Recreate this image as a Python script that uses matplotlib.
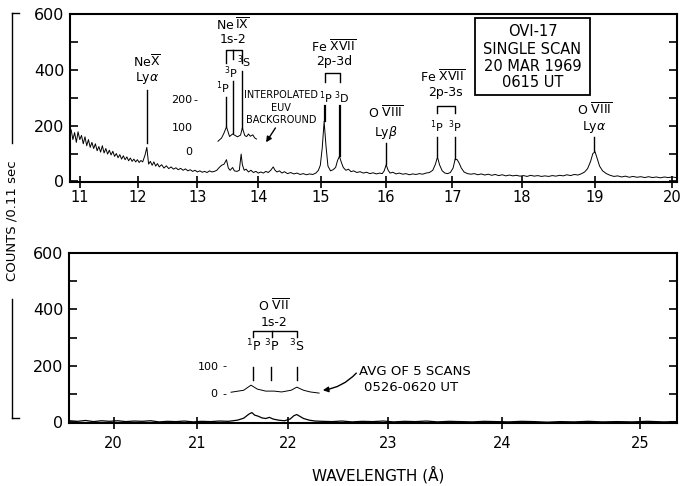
import numpy as np
import matplotlib.pyplot as plt
from matplotlib.patches import Rectangle
from matplotlib.lines import Line2D

plt.rcParams['font.family'] = ['DejaVu Sans']
plt.rcParams['mathtext.fontset'] = 'dejavusans'

# crystal 2d spacing (KAP) -> detector angle scale
TWO_D = 26.63

# upper panel: single scan, 20 Mar 1969
top_wl = [10.85, 10.88, 10.91, 10.94, 10.97, 11.00, 11.03, 11.06, 11.09, 11.12,
          11.15, 11.18, 11.21, 11.24, 11.27, 11.30, 11.33, 11.36, 11.39, 11.42,
          11.45, 11.48, 11.51, 11.54, 11.57, 11.60, 11.63, 11.66, 11.69, 11.72,
          11.75, 11.78, 11.81, 11.84, 11.87, 11.90, 11.93, 11.96, 11.99, 12.02,
          12.05, 12.08, 12.12, 12.15, 12.18, 12.21, 12.24, 12.27, 12.30, 12.33,
          12.36, 12.40, 12.44, 12.48, 12.52, 12.56, 12.60, 12.64, 12.68, 12.72,
          12.76, 12.80, 12.84, 12.88, 12.92, 12.96, 13.00, 13.04, 13.08, 13.12,
          13.16, 13.20, 13.24, 13.28, 13.32, 13.36, 13.40, 13.44, 13.48, 13.51,
          13.54, 13.58, 13.61, 13.65, 13.69, 13.72, 13.74, 13.77, 13.80, 13.84,
          13.88, 13.92, 13.96, 14.00, 14.04, 14.08, 14.12, 14.16, 14.20, 14.24,
          14.27, 14.30, 14.34, 14.38, 14.42, 14.47, 14.52, 14.57, 14.62, 14.67,
          14.72, 14.77, 14.82, 14.87, 14.92, 14.96, 14.99, 15.02, 15.05, 15.08,
          15.11, 15.15, 15.19, 15.23, 15.26, 15.29, 15.32, 15.35, 15.39, 15.43,
          15.47, 15.51, 15.56, 15.61, 15.66, 15.71, 15.76, 15.81, 15.86, 15.91,
          15.95, 15.98, 16.01, 16.04, 16.07, 16.11, 16.16, 16.21, 16.26, 16.31,
          16.36, 16.41, 16.46, 16.51, 16.56, 16.61, 16.66, 16.71, 16.75, 16.78,
          16.81, 16.85, 16.89, 16.93, 16.97, 17.01, 17.04, 17.07, 17.10, 17.13,
          17.17, 17.22, 17.27, 17.32, 17.37, 17.42, 17.47, 17.52, 17.57, 17.62,
          17.67, 17.72, 17.77, 17.82, 17.87, 17.92, 17.97, 18.02, 18.07, 18.12,
          18.17, 18.22, 18.27, 18.32, 18.37, 18.42, 18.47, 18.52, 18.57, 18.62,
          18.67, 18.72, 18.77, 18.82, 18.86, 18.90, 18.94, 18.97, 19.00, 19.03,
          19.06, 19.10, 19.15, 19.20, 19.25, 19.30, 19.35, 19.40, 19.45, 19.50,
          19.55, 19.60, 19.65, 19.70, 19.75, 19.80, 19.85, 19.90, 19.95, 20.00,
          20.05]
top_counts = [185, 150, 175, 140, 178, 150, 165, 135, 160, 128,
              150, 122, 140, 118, 135, 110, 125, 105, 128, 102,
              118, 98, 112, 95, 108, 90, 100, 85, 96, 80,
              92, 78, 88, 74, 84, 72, 80, 70, 78, 68,
              75, 70, 95, 122, 62, 72, 58, 70, 55, 64,
              52, 60, 48, 56, 46, 52, 44, 49, 42, 47,
              40, 45, 38, 42, 36, 40, 34, 38, 33, 36,
              32, 38, 34, 36, 40, 50, 58, 62, 78, 48,
              40, 50, 38, 36, 40, 98, 60, 40, 44, 34,
              40, 32, 36, 30, 34, 30, 36, 32, 40, 52,
              40, 34, 38, 30, 35, 28, 32, 27, 30, 25,
              28, 24, 27, 25, 30, 40, 58, 120, 215, 125,
              55, 38, 42, 50, 75, 90, 68, 50, 40, 44,
              35, 38, 32, 35, 30, 33, 28, 31, 27, 30,
              28, 38, 60, 40, 30, 33, 27, 30, 26, 28,
              24, 27, 25, 28, 26, 30, 32, 40, 62, 88,
              60, 38, 30, 28, 32, 48, 80, 78, 65, 48,
              34, 28, 26, 28, 24, 27, 23, 26, 22, 25,
              21, 24, 20, 23, 20, 22, 19, 21, 18, 22,
              19, 21, 18, 20, 18, 21, 19, 22, 20, 24,
              21, 25, 23, 28, 34, 46, 72, 100, 106, 80,
              55, 38, 28, 22, 18, 20, 16, 19, 15, 18,
              15, 17, 14, 17, 14, 16, 13, 16, 14, 16,
              14]

# Ne IX region with interpolated EUV background removed (own zero)
inset1_wl = [13.34, 13.40, 13.44, 13.48, 13.53, 13.58, 13.66, 13.71, 13.74,
             13.78, 13.81, 13.84, 13.87, 13.91, 13.94, 13.97]
inset1_counts = [40, 52, 70, 92, 57, 66, 56, 62, 88, 60, 57, 66, 58, 63, 52, 48]

# lower panel: single scan 19.4 - 25.2 A
bot_wl = [19.45, 19.55, 19.65, 19.75, 19.85, 19.95, 20.05, 20.15, 20.25, 20.35,
          20.45, 20.55, 20.65, 20.75, 20.85, 20.95, 21.05, 21.15, 21.25, 21.35,
          21.45, 21.52, 21.58, 21.61, 21.64, 21.68, 21.72, 21.76, 21.80, 21.84,
          21.90, 21.96, 22.02, 22.06, 22.09, 22.12, 22.16, 22.22, 22.28, 22.35,
          22.45, 22.55, 22.65, 22.75, 22.85, 22.95, 23.05, 23.15, 23.25, 23.35,
          23.45, 23.55, 23.65, 23.75, 23.85, 23.95, 24.05, 24.15, 24.25, 24.35,
          24.45, 24.55, 24.65, 24.75, 24.85, 24.95, 25.05, 25.15, 25.23]
bot_counts = [6, 4, 7, 3, 6, 4, 6, 3, 5, 4,
              6, 2, 4, 3, 5, 2, 4, 3, 5, 4,
              8, 15, 30, 35, 26, 22, 16, 14, 18, 12,
              8, 6, 12, 24, 28, 22, 14, 8, 5, 4,
              3, 5, 2, 4, 3, 5, 2, 4, 3, 5,
              2, 4, 3, 2, 4, 3, 2, 4, 3, 1,
              3, 2, 4, 2, 3, 2, 4, 2, 3]

# O VII average of 5 scans (own zero)
inset2_wl = [21.38, 21.52, 21.60, 21.67, 21.76, 21.85, 21.93, 22.03, 22.09,
             22.16, 22.23, 22.32]
inset2_counts = [3, 10, 28, 14, 7, 7, 4, 10, 21, 10, 4, 0]

inset1_zero = 104
inset2_zero = 104


def fwd(lam):
    return np.degrees(np.arcsin(np.clip(np.asarray(lam, float) / TWO_D, 0, 1)))


def inv(th):
    return TWO_D * np.sin(np.radians(th))


fig = plt.figure(figsize=(6.81, 4.86), dpi=100)
ax1 = fig.add_axes([0.1028, 0.6255, 0.8913, 0.3457])
ax2 = fig.add_axes([0.1013, 0.1296, 0.8928, 0.3498])

for ax in (ax1, ax2):
    ax.set_xscale('function', functions=(fwd, inv))
    ax.set_ylim(-2, 600)
    ax.set_yticks(np.arange(0, 601, 100))
    ax.set_yticklabels(['0', '', '200', '', '400', '', '600'])
    ax.tick_params(axis='y', direction='in', length=6, width=1.2,
                   right=True, labelsize=11.5, pad=4)
    ax.tick_params(axis='x', direction='inout', length=8, width=1.2,
                   labelsize=10.5, pad=2)
    for sp in ax.spines.values():
        sp.set_linewidth(1.5)

ax1.set_xlim(10.83, 20.06)
ax1.set_xticks(range(11, 21))
ax1.minorticks_off()
ax2.set_xlim(19.44, 25.23)
ax2.set_xticks(range(20, 26))
ax2.minorticks_off()
ax2.tick_params(axis='x', pad=5)

ax1.plot(top_wl, top_counts, color='k', lw=0.7)
ax1.plot(inset1_wl, np.array(inset1_counts) + inset1_zero, color='k', lw=0.7)
ax2.plot(bot_wl, bot_counts, color='k', lw=0.9)
ax2.plot(inset2_wl, np.array(inset2_counts) + inset2_zero, color='k', lw=0.7)


def lab(ax, x, y, s, size=9, ha='center'):
    ax.text(x, y, s, ha=ha, va='center', fontsize=size)


def vline(ax, x, y0, y1, lw=1.0):
    ax.plot([x, x], [y0, y1], color='k', lw=lw)


def bracket(ax, xs, ytop, ybot, mid=None, midbot=None):
    ax.plot([xs[0], xs[0], xs[1], xs[1]], [ybot, ytop, ytop, ybot], color='k', lw=1.0)
    if mid is not None:
        vline(ax, mid, ytop, midbot)


# --- upper panel annotations ---
lab(ax1, 12.15, 429, r'Ne$\overline{\mathrm{X}}$')
lab(ax1, 12.15, 371, r'Ly$\alpha$')
vline(ax1, 12.15, 329, 139)

lab(ax1, 13.58, 561, r'Ne$\,\overline{\mathrm{IX}}$')
lab(ax1, 13.58, 507, '1s-2')
bracket(ax1, (13.47, 13.73), 471, 425, mid=13.58, midbot=440)
lab(ax1, 13.42, 336, r'$^{1}$P', 8)
lab(ax1, 13.56, 389, r'$^{3}$P', 8)
lab(ax1, 13.76, 429, r'$^{3}$S', 8)
vline(ax1, 13.48, 304, 200)
vline(ax1, 13.58, 360, 175)
vline(ax1, 13.74, 395, 193)

lab(ax1, 12.74, 293, '200', 8)
lab(ax1, 12.74, 193, '100', 8)
lab(ax1, 12.86, 104, '0', 8)
lab(ax1, 12.96, 293, '-', 8)

lab(ax1, 14.37, 311, 'INTERPOLATED', 7)
lab(ax1, 14.37, 264, 'EUV', 7)
lab(ax1, 14.37, 221, 'BACKGROUND', 7)
ax1.annotate('', xy=(14.10, 132), xytext=(14.30, 200),
             arrowprops=dict(arrowstyle='-|>', color='k', lw=1.0, mutation_scale=8))

lab(ax1, 15.20, 482, r'Fe $\overline{\mathrm{XVII}}$')
lab(ax1, 15.20, 429, '2p-3d')
bracket(ax1, (15.06, 15.30), 389, 357)
lab(ax1, 15.08, 300, r'$^{1}$P', 8)
lab(ax1, 15.32, 300, r'$^{3}$D', 8)
vline(ax1, 15.06, 272, 215, lw=1.6)
vline(ax1, 15.30, 272, 92, lw=1.6)

lab(ax1, 16.0, 246, r'O $\overline{\mathrm{VIII}}$')
lab(ax1, 16.0, 175, r'Ly$\beta$')
vline(ax1, 16.0, 139, 62)

lab(ax1, 16.86, 375, r'Fe $\overline{\mathrm{XVII}}$')
lab(ax1, 16.90, 318, '2p-3s')
bracket(ax1, (16.78, 17.04), 271, 246)
lab(ax1, 16.77, 196, r'$^{1}$P', 8)
lab(ax1, 17.03, 196, r'$^{3}$P', 8)
vline(ax1, 16.78, 161, 90)
vline(ax1, 17.04, 161, 82)

lab(ax1, 18.99, 257, r'O $\overline{\mathrm{VIII}}$')
lab(ax1, 18.99, 196, r'Ly$\alpha$')
vline(ax1, 18.99, 161, 108)

ax1.add_patch(Rectangle((0.667, 0.518), 0.19, 0.458, transform=ax1.transAxes,
                        fill=False, lw=1.3, color='k'))
for yy, s in zip([0.893, 0.786, 0.685, 0.595],
                 ['OVI-17', 'SINGLE SCAN', '20 MAR 1969', '0615 UT']):
    ax1.text(0.762, yy, s, transform=ax1.transAxes, ha='center', va='center',
             fontsize=10.5)

# --- lower panel annotations ---
lab(ax2, 21.85, 413, r'O $\overline{\mathrm{VII}}$')
lab(ax2, 21.85, 353, '1s-2')
bracket(ax2, (21.62, 22.09), 325, 304, mid=21.83, midbot=304)
lab(ax2, 21.63, 269, r'$^{1}$P', 9)
lab(ax2, 21.82, 269, r'$^{3}$P', 9)
lab(ax2, 22.09, 269, r'$^{3}$S', 9)
for xx in (21.62, 21.82, 22.09):
    vline(ax2, xx, 198, 152)
lab(ax2, 21.13, 198, '100', 8)
lab(ax2, 21.19, 102, '0', 8)
lab(ax2, 21.31, 198, '-', 8)
lab(ax2, 21.31, 102, '-', 8)

lab(ax2, 22.72, 180, 'AVG OF 5 SCANS', 9.5, ha='left')
lab(ax2, 22.77, 124, '0526-0620 UT', 9.5, ha='left')
ax2.annotate('', xy=(22.33, 113), xytext=(22.71, 182),
             arrowprops=dict(arrowstyle='-|>', color='k', lw=1.0, mutation_scale=8,
                             connectionstyle='arc3,rad=-0.2'))

ax2.set_xlabel('WAVELENGTH (Å)', fontsize=11)
ax2.xaxis.set_label_coords(0.508, -0.25)

# shared y label with long bracket lines
fig.text(0.018, 0.545, 'COUNTS /0.11 sec', rotation=90, ha='center', va='center',
         fontsize=9.5)
fig.add_artist(Line2D([0.018, 0.018], [0.973, 0.705], color='k', lw=1.0))
fig.add_artist(Line2D([0.018, 0.028], [0.973, 0.973], color='k', lw=1.0))
fig.add_artist(Line2D([0.018, 0.018], [0.385, 0.14], color='k', lw=1.0))
fig.add_artist(Line2D([0.018, 0.028], [0.14, 0.14], color='k', lw=1.0))

fig.savefig('out.png', dpi=100)
